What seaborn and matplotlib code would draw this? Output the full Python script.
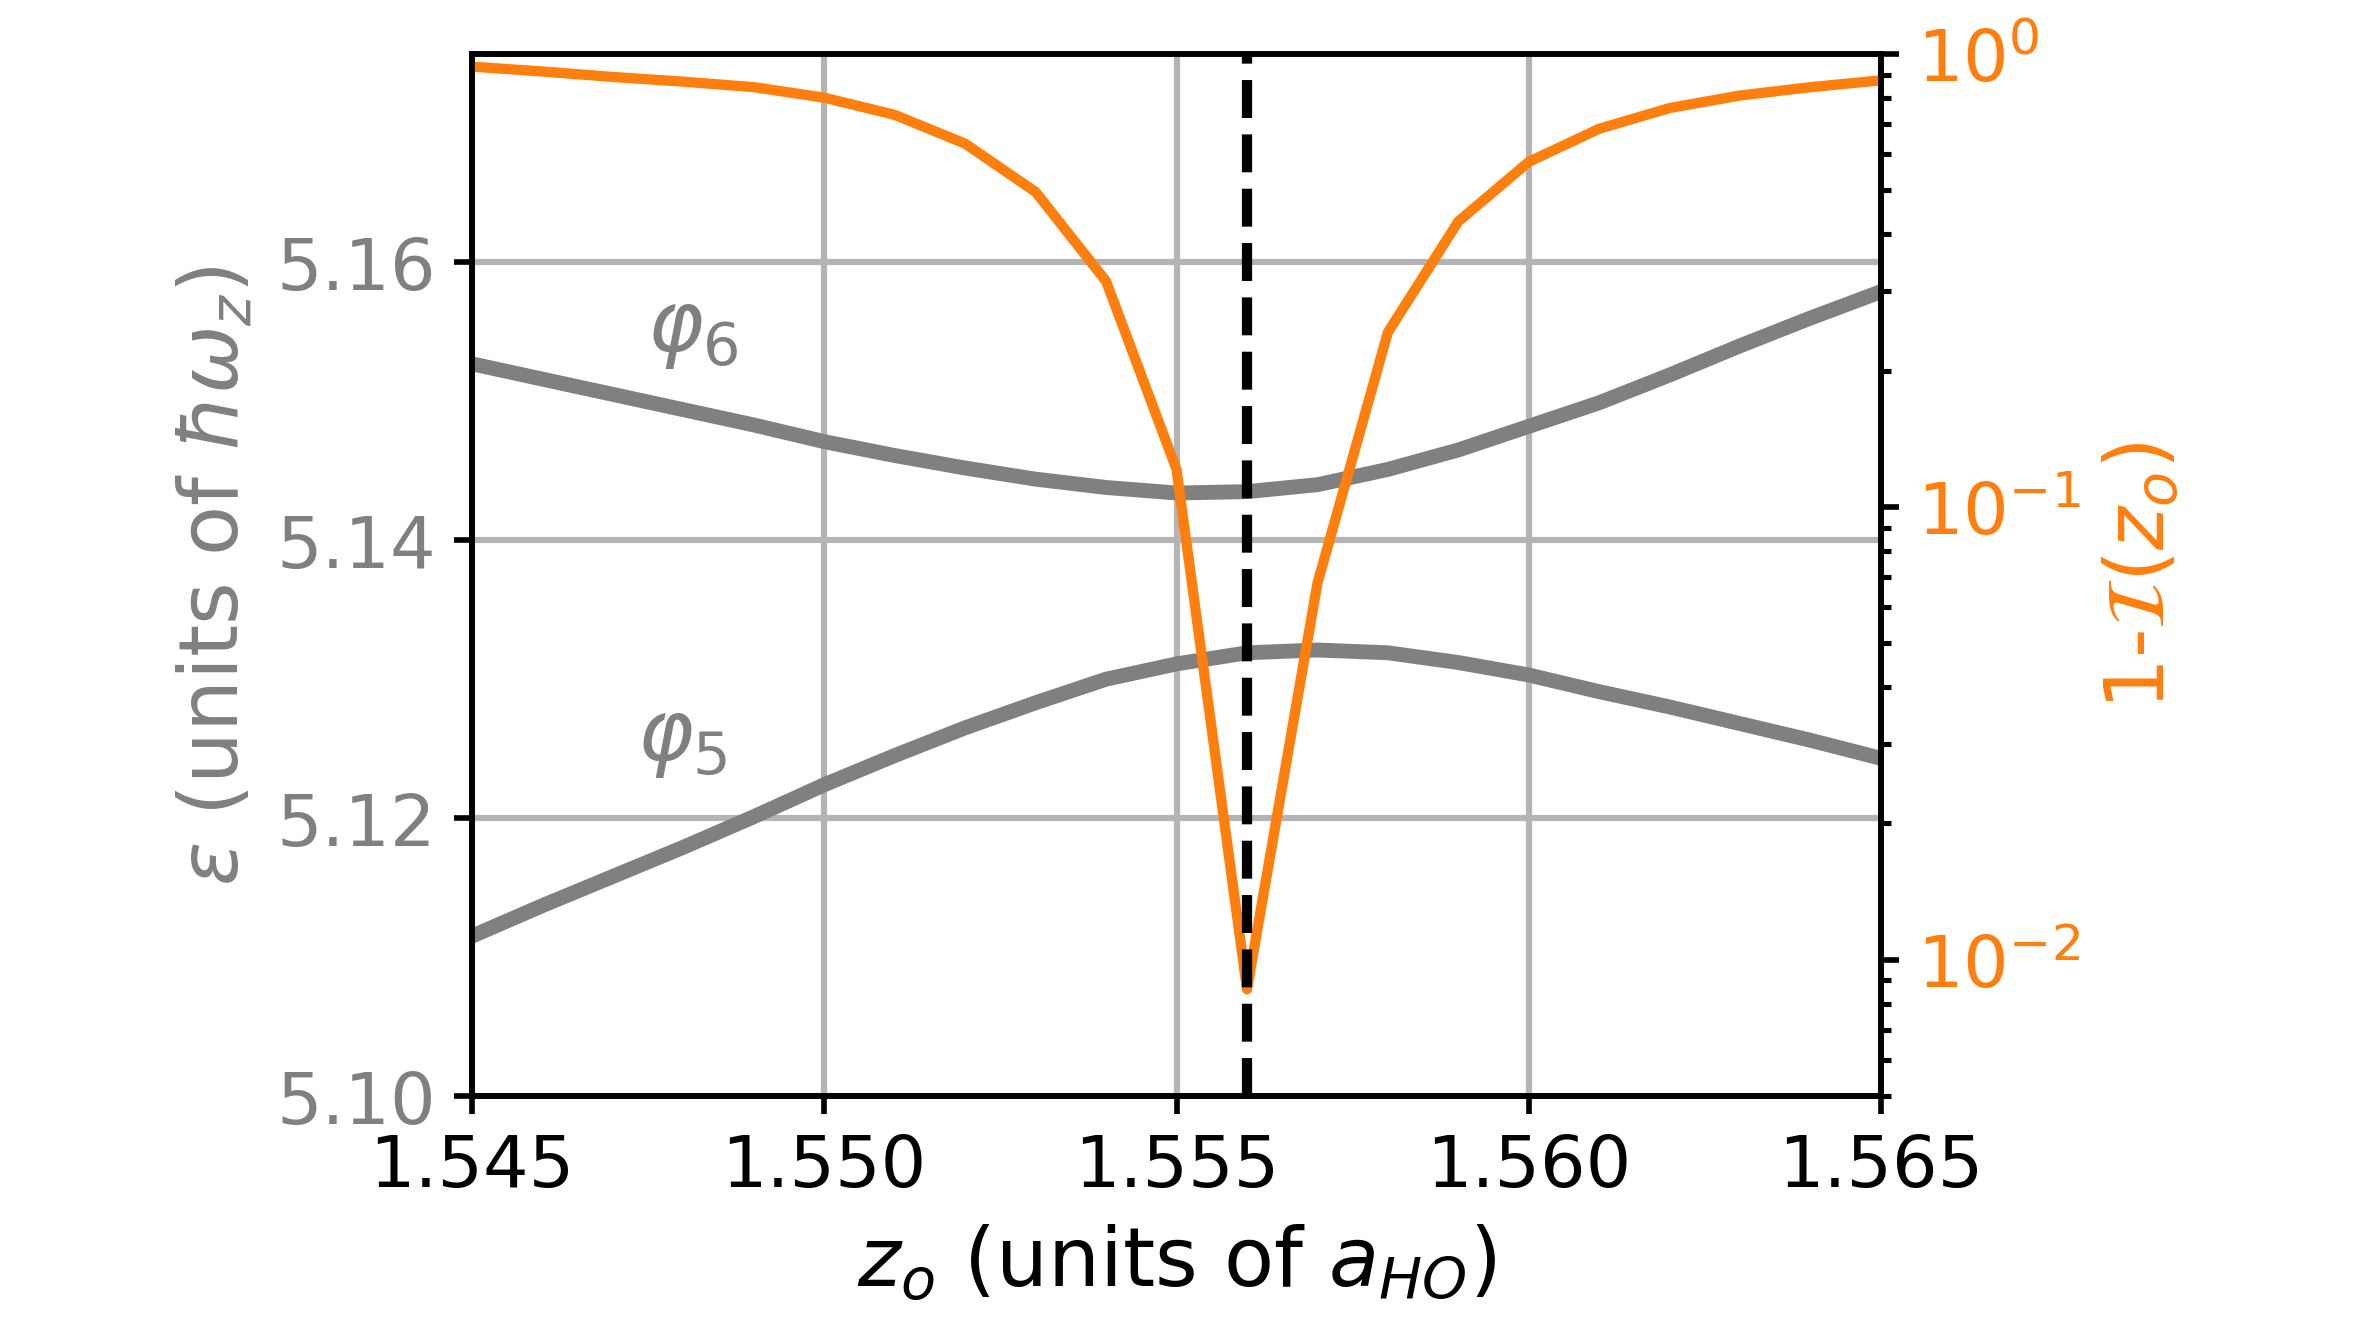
import matplotlib
matplotlib.use('Agg')
import matplotlib.pyplot as plt
import seaborn as sns

# data
z_o = [1.545, 1.546, 1.547, 1.548, 1.549, 1.550, 1.551, 1.552, 1.553, 1.554, 1.555,
       1.556, 1.557, 1.558, 1.559, 1.560, 1.561, 1.562, 1.563, 1.564, 1.565]
phi6 = [5.1527, 5.1516, 5.1505, 5.1494, 5.1483, 5.1471, 5.1461, 5.1452, 5.1444, 5.1438, 5.1434,
        5.1435, 5.1440, 5.1451, 5.1465, 5.1482, 5.1499, 5.1519, 5.1540, 5.1560, 5.1579]
phi5 = [5.1115, 5.1137, 5.1158, 5.1179, 5.1201, 5.1224, 5.1245, 5.1265, 5.1283, 5.1300, 5.1311,
        5.1319, 5.1321, 5.1319, 5.1312, 5.1303, 5.1291, 5.1280, 5.1268, 5.1256, 5.1243]
infidelity = [0.938, 0.915, 0.890, 0.869, 0.845, 0.801, 0.734, 0.634, 0.496, 0.315, 0.121,
              0.0086, 0.0678, 0.243, 0.427, 0.578, 0.684, 0.760, 0.810, 0.845, 0.875]
z_cross = 1.556
x_ticks = [1.545, 1.550, 1.555, 1.560, 1.565]
y_ticks = [5.10, 5.12, 5.14, 5.16]

orange = '#ff7f0e'
grey = 'gray'

plt.rcParams['axes.linewidth'] = 1.1
plt.rcParams['xtick.major.width'] = 1.1
plt.rcParams['ytick.major.width'] = 1.1
plt.rcParams['ytick.minor.width'] = 1.0

fig, ax = plt.subplots(figsize=(6.4, 3.601), dpi=2362 / 6.4)
fig.subplots_adjust(left=0.1998, right=0.7964, top=0.9586, bottom=0.1746)

sns.lineplot(x=z_o, y=phi6, ax=ax, color=grey, lw=2.9)
sns.lineplot(x=z_o, y=phi5, ax=ax, color=grey, lw=2.9)
ax.set_xlim(1.545, 1.565)
ax.set_ylim(5.10, 5.175)
ax.set_xticks(x_ticks)
ax.set_xticklabels(['%.3f' % t for t in x_ticks])
ax.set_yticks(y_ticks)
ax.set_yticklabels(['%.2f' % t for t in y_ticks])
ax.grid(True, color='#b4b4b4', lw=1.2)
ax.tick_params(axis='x', labelsize=14)
ax.tick_params(axis='y', labelsize=14, labelcolor=grey)
ax.set_xlabel(r'$z_o$ (units of $a_{HO}$)', fontsize=16)
ax.set_ylabel(r'$\varepsilon$ (units of $\hbar\omega_z$)', fontsize=16, color=grey)
ax.text(1.54814, 5.15525, r'$\varphi_6$', fontsize=16.5, color=grey, ha='center', va='center')
ax.text(1.54798, 5.12583, r'$\varphi_5$', fontsize=16.5, color=grey, ha='center', va='center')

ax2 = ax.twinx()
sns.lineplot(x=z_o, y=infidelity, ax=ax2, color=orange, lw=2.0)
ax2.set_yscale('log')
ax2.set_ylim(0.005, 1)
ax2.axvline(z_cross, color='black', lw=2.0, linestyle='--')
ax2.tick_params(axis='y', labelsize=14, labelcolor=orange)
ax2.set_ylabel(r'1-$\mathcal{I}(z_o)$', fontsize=16, color=orange)

fig.savefig('out.png', dpi=2362 / 6.4)
